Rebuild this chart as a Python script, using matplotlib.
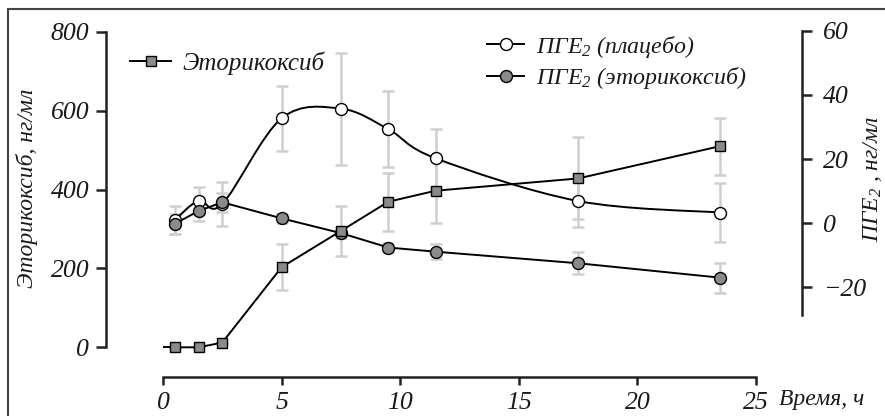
import numpy as np
import matplotlib
matplotlib.use("Agg")
import matplotlib.pyplot as plt
from matplotlib.path import Path
from matplotlib.patches import PathPatch
from matplotlib.lines import Line2D

plt.rcParams['font.family'] = ['Liberation Serif', 'DejaVu Serif']
plt.rcParams['font.style'] = 'italic'
plt.rcParams['mathtext.fontset'] = 'custom'
plt.rcParams['mathtext.rm'] = 'Liberation Serif:italic'
plt.rcParams['mathtext.it'] = 'Liberation Serif:italic'

# ---- data ----
time_h = [0.5, 1.5, 2.5, 5, 7.5, 9.5, 11.5, 17.5, 23.5]
etori = [0, 0, 12, 203, 295, 369, 397, 428, 510]
etori_err = [0, 0, 0, 58, 63, 73, 81, 104, 72]
etori_start_t = 0.0
etori_start_v = 0.0
pge_placebo = [1.0, 7.0, 6.0, 32.7, 35.7, 29.3, 20.2, 6.9, 3.3]
pge_placebo_err = [4.3, 4.2, 6.8, 10.1, 17.5, 11.8, 9.0, 8.0, 9.3]
pge_etori = [-0.2, 3.8, 6.5, 1.5, -3.1, -7.6, -8.9, -12.5, -17.0]
pge_etori_err = [3.1, 3.0, 3.0, 1.4, 1.5, 1.5, 2.3, 3.5, 4.7]

x_ticks = [0, 5, 10, 15, 20, 25]
left_ticks = [0, 200, 400, 600, 800]
right_ticks = [-20, 0, 20, 40, 60]

label_etori = 'Эторикоксиб'
label_placebo = 'ПГЕ$_{2}$ (плацебо)'
label_pge_etori = 'ПГЕ$_{2}$ (эторикоксиб)'

W, H = 885, 416
fig = plt.figure(figsize=(W / 100, H / 100), dpi=100)

ax_left_px, ax_right_px = 163, 756
ax_top_px, ax_bot_px = 25, 376.7
ax = fig.add_axes([ax_left_px / W, 1 - ax_bot_px / H,
                   (ax_right_px - ax_left_px) / W, (ax_bot_px - ax_top_px) / H])
ax2 = ax.twinx()
ax.patch.set_visible(False)
ax2.patch.set_visible(False)

ax.set_xlim(0, 25)
ax.set_ylim(-74.5, 817.0)
ax2.set_ylim(-47.87, 61.78)

GREY = '#8a8a8a'
ECOL = '#cfcfcf'
TXT = '#1a1a1a'
lw_err = 1.8
cap = 4.6

# error bars (background)
ax.errorbar(time_h, etori, yerr=etori_err, fmt='none', ecolor=ECOL,
            elinewidth=lw_err, capsize=cap, capthick=lw_err, zorder=1)
ax2.errorbar(time_h, pge_placebo, yerr=pge_placebo_err, fmt='none', ecolor=ECOL,
             elinewidth=lw_err, capsize=cap, capthick=lw_err, zorder=1)
ax2.errorbar(time_h, pge_etori, yerr=pge_etori_err, fmt='none', ecolor=ECOL,
             elinewidth=lw_err, capsize=cap, capthick=lw_err, zorder=1)

# smoothed placebo line (Bezier through the data points)
xs = np.array(time_h, float)
ys = np.array(pge_placebo, float)
verts = [(xs[0], ys[0])]
codes = [Path.MOVETO]
n = len(xs)
for i in range(n - 1):
    p0 = np.array([xs[max(i - 1, 0)], ys[max(i - 1, 0)]])
    p1 = np.array([xs[i], ys[i]])
    p2 = np.array([xs[i + 1], ys[i + 1]])
    p3 = np.array([xs[min(i + 2, n - 1)], ys[min(i + 2, n - 1)]])
    c1 = p1 + (p2 - p0) / 6.0
    c2 = p2 - (p3 - p1) / 6.0
    verts += [tuple(c1), tuple(c2), tuple(p2)]
    codes += [Path.CURVE4] * 3
ax2.add_patch(PathPatch(Path(verts, codes), facecolor='none', edgecolor='black',
                        lw=1.4, zorder=3))
h_pl, = ax2.plot(time_h, pge_placebo, linestyle='none', color='black',
                 marker='o', markersize=8.6, markerfacecolor='white',
                 markeredgecolor='black', markeredgewidth=1.0, zorder=3)
h_pl_leg = Line2D([], [], linestyle='-', color='black', lw=1.4, marker='o',
                  markersize=8.6, markerfacecolor='white', markeredgecolor='black',
                  markeredgewidth=1.0)

h_pe, = ax2.plot(time_h, pge_etori, linestyle='-', color='black', lw=1.4,
                 marker='o', markersize=8.6, markerfacecolor=GREY,
                 markeredgecolor='black', markeredgewidth=1.0, zorder=4)

# etoricoxib drawn on top axes using left-axis transform
ax2.plot([etori_start_t, time_h[0]], [etori_start_v, etori[0]], color='black',
         lw=1.4, transform=ax.transData, zorder=5)
h_et, = ax2.plot(time_h, etori, linestyle='-', color='black', lw=1.4,
                 marker='s', markersize=7.4, markerfacecolor=GREY,
                 markeredgecolor='black', markeredgewidth=1.0,
                 transform=ax.transData, zorder=5)
ax2.set_ylim(-47.87, 61.78)
ax2.set_xlim(0, 25)

# spines
for a in (ax, ax2):
    a.spines['top'].set_visible(False)
ax.spines['right'].set_visible(False)
ax2.spines['left'].set_visible(False)
ax2.spines['bottom'].set_visible(False)

ax.spines['left'].set_position(('axes', (106 - ax_left_px) / (ax_right_px - ax_left_px)))
ax.spines['left'].set_bounds(0, 800)
ax2.spines['right'].set_position(('axes', (802 - ax_left_px) / (ax_right_px - ax_left_px)))
ax2.spines['right'].set_bounds(-28.5, 60)
ax.spines['bottom'].set_bounds(0, 25)

for sp in (ax.spines['left'], ax.spines['bottom'], ax2.spines['right']):
    sp.set_linewidth(1.8)
    sp.set_color('#222222')

ax.set_xticks(x_ticks)
ax.set_yticks(left_ticks)
ax2.set_yticks(right_ticks)
ax.tick_params(axis='x', direction='out', length=6, width=1.8, color='#222222',
               labelsize=18.5, pad=5)
ax.tick_params(axis='y', direction='out', length=7, width=1.8, color='#222222',
               labelsize=18.5, pad=5)
ax2.tick_params(axis='y', direction='out', length=7, width=1.8, color='#222222',
                labelsize=18.5, pad=8)
for lab in ax.get_xticklabels() + ax.get_yticklabels() + ax2.get_yticklabels():
    lab.set_fontstyle('italic')
    lab.set_color(TXT)

# axis labels
fig.text(27 / W, 1 - 188 / H, 'Эторикоксиб, нг/мл', rotation=90, ha='center',
         va='center', fontsize=17, style='italic', color=TXT)
fig.text(872 / W, 1 - 179 / H, 'ПГЕ$_{2}$ , нг/мл', rotation=90, ha='center',
         va='center', fontsize=17, style='italic', color=TXT)
fig.text(779 / W, 1 - 400 / H, 'Время, ч', ha='left', va='center', fontsize=17,
         style='italic', color=TXT)

# legends
leg1 = fig.legend([h_et], [label_etori], loc='center left',
                  bbox_to_anchor=(130 / W, 1 - 63 / H), frameon=False,
                  borderpad=0, borderaxespad=0, handlelength=1.65,
                  handletextpad=0.45, prop={'size': 18, 'style': 'italic'})
leg2 = fig.legend([h_pl_leg, h_pe], [label_placebo, label_pge_etori],
                  loc='center left', bbox_to_anchor=(487 / W, 1 - 62.5 / H),
                  frameon=False, borderpad=0, borderaxespad=0, handlelength=1.55,
                  handletextpad=0.5, labelspacing=0.25,
                  prop={'size': 17.2, 'style': 'italic'})
for t in leg1.get_texts() + leg2.get_texts():
    t.set_color(TXT)

# figure frame (left and top edges)
fig.add_artist(Line2D([7.5 / W, 7.5 / W], [0, 1 - 9 / H], transform=fig.transFigure,
                      color='#444444', lw=1.5))
fig.add_artist(Line2D([7.5 / W, 1], [1 - 9 / H, 1 - 9 / H], transform=fig.transFigure,
                      color='#444444', lw=1.5))

fig.savefig('out.png', dpi=100)
